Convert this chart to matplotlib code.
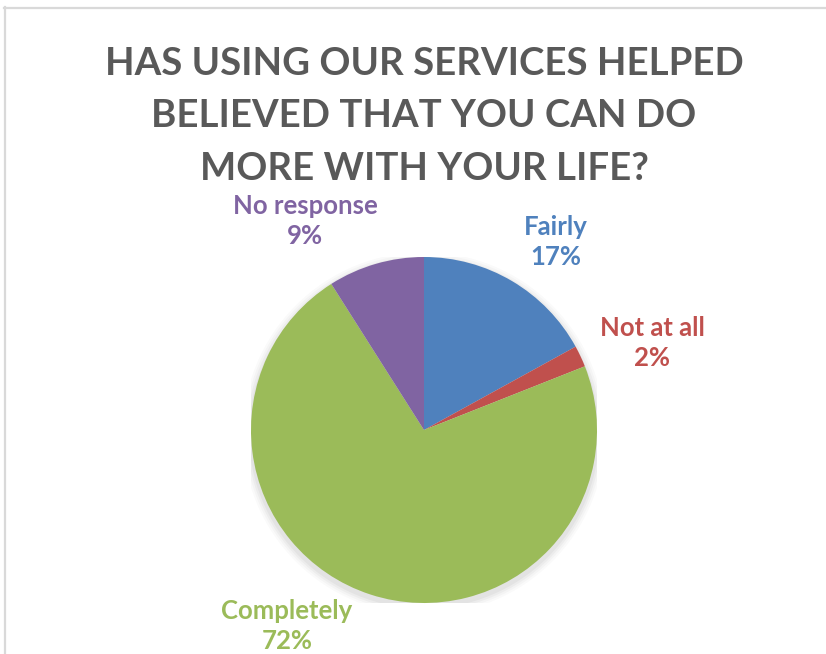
import matplotlib
matplotlib.use("Agg")
import matplotlib.pyplot as plt
from matplotlib.lines import Line2D
from matplotlib.patches import Circle

categories = ["Fairly", "Not at all", "Completely", "No response"]
values = [17, 2, 72, 9]
colors = ["#4F81BD", "#C0504D", "#9BBB59", "#8064A2"]
title_lines = ["HAS USING OUR SERVICES HELPED",
               "BELIEVED THAT YOU CAN DO",
               "MORE WITH YOUR LIFE?"]

W, H = 826, 654
fig = plt.figure(figsize=(W / 100, H / 100), dpi=100)
fig.patch.set_facecolor("white")

def fx(x):
    return x / W

def fy(y):
    return 1 - y / H

# chart frame (top and left edges)
fig.add_artist(Line2D([fx(4), fx(826)], [fy(7.5), fy(7.5)], color="#D9D9D9", lw=1.6))
fig.add_artist(Line2D([fx(4.5), fx(4.5)], [fy(7), fy(654)], color="#D9D9D9", lw=1.6))

# pie axes: centre (424, 430), radius 173 px
cx, cy, r = 424, 430, 173
ax = fig.add_axes([fx(cx - r), fy(cy + r), 2 * r / W, 2 * r / H])
ax.set_xlim(-1, 1)
ax.set_ylim(-1, 1)
ax.set_aspect("equal")
ax.axis("off")

# soft drop shadow under the pie
for i, a in enumerate([0.035, 0.03, 0.025, 0.02]):
    ax.add_patch(Circle((0.0, -0.02), 1.0 + 0.012 * (i + 1), color="black",
                        alpha=a, lw=0, zorder=0))

ax.pie(values, colors=colors, startangle=90, counterclock=False, radius=1.0,
       wedgeprops=dict(linewidth=0), center=(0, 0), frame=False)
ax.set_xlim(-1, 1)
ax.set_ylim(-1, 1)

# title, one line at a time (baselines)
for line, base in zip(title_lines, [75, 127, 180]):
    fig.text(fx(424), fy(base), line, ha="center", va="baseline",
             fontsize=27.6, fontweight="bold", color="#595959", family="Lato")

label_pos = [(556, 242), (652, 343), (287, 626), (305, 221)]
for cat, val, col, (px, py) in zip(categories, values, colors, label_pos):
    fig.text(fx(px), fy(py), f"{cat}\n{val}%", ha="center", va="center",
             fontsize=18.5, fontweight="bold", color=col, family="Lato",
             linespacing=1.32)

fig.savefig("out.png", dpi=100, facecolor="white")
